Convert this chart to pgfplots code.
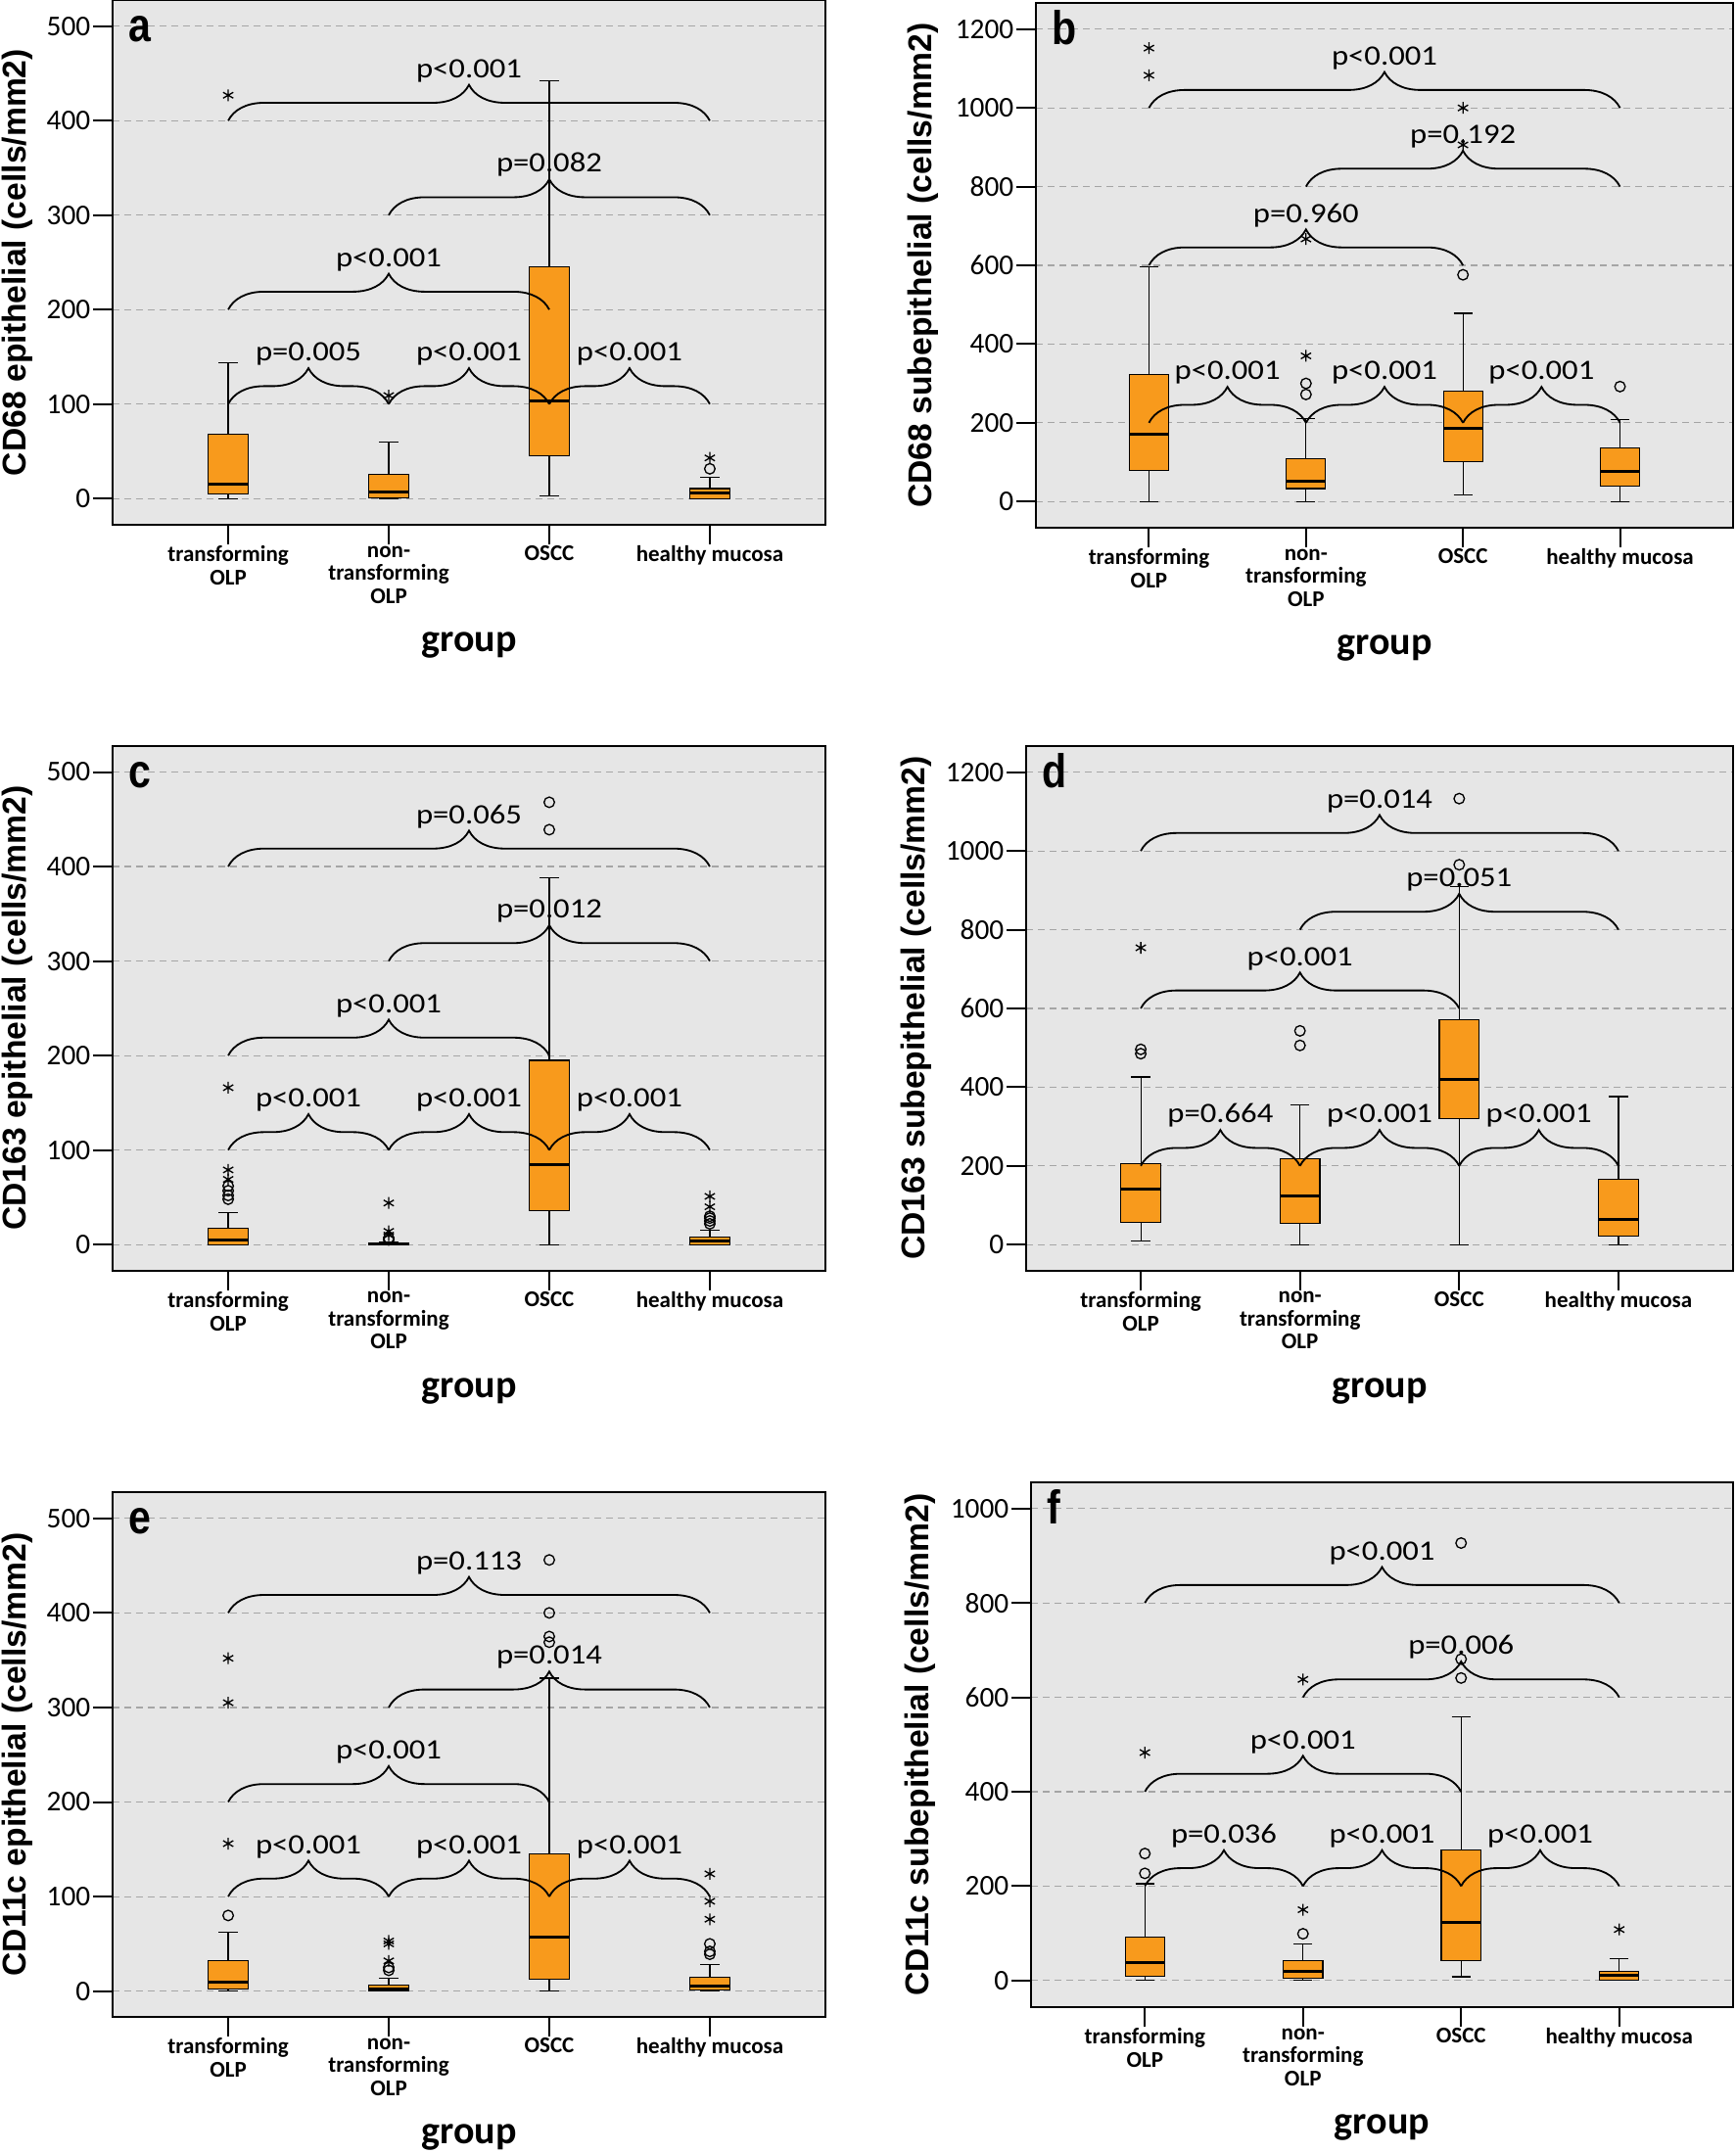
\documentclass[border=0pt]{standalone}
\usepackage{fontspec}
\setmainfont{Carlito}
\newfontfamily\arialf{Liberation Sans}
\usepackage{pgfplots}
\pgfplotsset{compat=1.18}
\usepgfplotslibrary{statistics}
\usetikzlibrary{decorations.pathreplacing}
\definecolor{bgc}{RGB}{230,230,230}
\definecolor{boxc}{RGB}{248,154,28}
\definecolor{gridc}{RGB}{165,165,165}
\newcommand{\tickfont}{\fontsize{8.8}{8.8}\selectfont}
\newcommand{\pfont}{\fontsize{8.6}{8.6}\selectfont}
\newcommand{\catfont}{\fontsize{6.9}{7.1}\selectfont\bfseries}
\newcommand{\grpfont}{\fontsize{12}{12}\selectfont\bfseries}
\newcommand{\ylfont}{\arialf\bfseries\fontsize{10.1}{10.1}\selectfont}
\newcommand{\letfont}{\arialf\bfseries\fontsize{14.5}{14.5}\selectfont}
\tikzset{
  brc/.style={decorate, decoration={brace, amplitude=11pt}, line width=0.55pt, black},
  pv/.style={anchor=south, inner sep=0pt, font=\pfont, yshift=11.6pt, xscale=1.14},
}
\pgfplotsset{
  panel/.style={
    scale only axis, height=160.8pt,
    xmin=0.28, xmax=4.72,
    xtick={1,2,3,4},
    xticklabels={{transforming\\OLP},{non-\\transforming\\OLP},{OSCC},{healthy mucosa}},
    tick pos=left, tick align=outside,
    major tick length=6pt,
    major tick style={black, line width=0.6pt},
    axis line style={black, line width=0.6pt},
    axis background/.style={fill=bgc},
    ymajorgrids,
    grid style={gridc, line width=0.35pt, dash pattern=on 2.1pt off 1.5pt},
    yticklabel style={font=\tickfont, inner sep=0.6pt},
    xticklabel style={font=\catfont, align=center, yshift=3pt},
    /pgf/number format/assume math mode=true,
    /pgf/number format/1000 sep={},
    xlabel={group},
    xlabel style={font=\grpfont, at={(axis description cs:0.5,-0.2295)}, anchor=center},
  },
  boxp/.style={boxplot/draw direction=y, boxplot/box extend=0.25, boxplot/whisker extend=0.12,
    draw=black, line width=0.35pt, fill=boxc,
    boxplot/every median/.style={line width=0.9pt, draw=black}},
}
\newcommand{\bx}[6]{\addplot[boxp, boxplot prepared={draw position=#1, lower whisker=#2, lower quartile=#3, median=#4, upper quartile=#5, upper whisker=#6}] coordinates {};}
\newcommand{\outl}[1]{\addplot[only marks, mark=o, mark size=1.6pt, black, line width=0.4pt] coordinates {#1};}
\newcommand{\ext}[1]{\addplot[only marks, mark=asterisk, mark size=1.8pt, black, line width=0.4pt] coordinates {#1};}
\newcommand{\brc}[5]{\draw[brc] (axis cs:#1,#4) -- (axis cs:#2,#4); \node[pv] at (axis cs:#3,#4) {#5};}
\newcommand{\plet}[1]{\node[anchor=base west, inner sep=0pt, font=\letfont, xshift=4.8pt, yshift=-12.8pt, xscale=0.85] at (rel axis cs:0,1) {#1};}
\begin{document}
\begin{tikzpicture}
\useasboundingbox (0pt,0pt) rectangle (531.9pt,-659.7pt);
% ---------------- a
\begin{axis}[panel, at={(34.5pt,-160.8pt)}, anchor=south west, width=218.4pt,
  ymin=-27.8, ymax=527.8, ytick={0,100,...,500},
  ylabel={CD68 epithelial (cells/mm2)},
  ylabel style={font=\ylfont, at={(axis description cs:-0.133,0.5)}, anchor=center}]
\bx{1}{0}{5}{15.7}{68}{143.5}
\bx{2}{0}{1}{7.4}{25.5}{60}
\bx{3}{3}{45}{103}{245}{442}
\bx{4}{0}{0}{5.5}{10.6}{22.7}
\outl{(4,31.5)}
\ext{(1,427) (2,109) (4,43)}
\brc{1}{4}{2.5}{400}{p<0.001}
\brc{2}{4}{3}{300}{p=0.082}
\brc{1}{3}{2}{200}{p<0.001}
\brc{1}{2}{1.5}{100}{p=0.005}
\brc{2}{3}{2.5}{100}{p<0.001}
\brc{3}{4}{3.5}{100}{p<0.001}
\plet{a}
\end{axis}
% ---------------- b
\begin{axis}[panel, at={(317.4pt,-161.7pt)}, anchor=south west, width=213.6pt,
  ymin=-66.7, ymax=1266.7, ytick={0,200,...,1200},
  ylabel={CD68 subepithelial (cells/mm2)},
  ylabel style={font=\ylfont, at={(axis description cs:-0.1615,0.5)}, anchor=center}]
\bx{1}{0}{78}{172}{322}{597}
\bx{2}{0}{33}{52}{108}{211}
\bx{3}{17}{102}{186}{281}{478}
\bx{4}{0}{40}{76}{137}{209}
\outl{(2,300) (2,272) (3,576) (4,292)}
\ext{(1,1152) (1,1083) (2,370) (2,667) (3,1000) (3,906)}
\brc{1}{4}{2.5}{1000}{p<0.001}
\brc{2}{4}{3}{800}{p=0.192}
\brc{1}{3}{2}{600}{p=0.960}
\brc{1}{2}{1.5}{200}{p<0.001}
\brc{2}{3}{2.5}{200}{p<0.001}
\brc{3}{4}{3.5}{200}{p<0.001}
\plet{b}
\end{axis}
% ---------------- c
\begin{axis}[panel, at={(34.5pt,-389.25pt)}, anchor=south west, width=218.4pt,
  ymin=-27.3, ymax=528, ytick={0,100,...,500},
  ylabel={CD163 epithelial (cells/mm2)},
  ylabel style={font=\ylfont, at={(axis description cs:-0.133,0.5)}, anchor=center}]
\bx{1}{0}{0}{4.6}{17}{34}
\bx{2}{0}{0}{0.5}{2}{3}
\bx{3}{0}{35.6}{85}{195}{388}
\bx{4}{0}{0}{3.7}{8}{15}
\outl{(1,62) (1,57) (1,52) (1,48) (2,5) (2,7) (3,468) (3,439) (4,22) (4,25) (4,28) (4,30)}
\ext{(1,79) (1,69) (1,166) (2,10) (2,14) (2,44) (4,40) (4,51)}
\brc{1}{4}{2.5}{400}{p=0.065}
\brc{2}{4}{3}{300}{p=0.012}
\brc{1}{3}{2}{200}{p<0.001}
\brc{1}{2}{1.5}{100}{p<0.001}
\brc{2}{3}{2.5}{100}{p<0.001}
\brc{3}{4}{3.5}{100}{p<0.001}
\plet{c}
\end{axis}
% ---------------- d
\begin{axis}[panel, at={(314.4pt,-389.25pt)}, anchor=south west, width=216.6pt,
  ymin=-65.5, ymax=1267.7, ytick={0,200,...,1200},
  ylabel={CD163 subepithelial (cells/mm2)},
  ylabel style={font=\ylfont, at={(axis description cs:-0.155,0.5)}, anchor=center}]
\bx{1}{10}{57}{140}{206}{426}
\bx{2}{0}{54}{123}{219}{354}
\bx{3}{0}{321}{419}{571}{909}
\bx{4}{0}{21}{65}{165}{376}
\outl{(1,496) (1,485) (2,543) (2,506) (3,1133) (3,965)}
\ext{(1,754)}
\brc{1}{4}{2.5}{1000}{p=0.014}
\brc{2}{4}{3}{800}{p=0.051}
\brc{1}{3}{2}{600}{p<0.001}
\brc{1}{2}{1.5}{200}{p=0.664}
\brc{2}{3}{2.5}{200}{p<0.001}
\brc{3}{4}{3.5}{200}{p<0.001}
\plet{d}
\end{axis}
% ---------------- e
\begin{axis}[panel, at={(34.5pt,-618pt)}, anchor=south west, width=218.4pt,
  ymin=-27.3, ymax=527.7, ytick={0,100,...,500},
  ylabel={CD11c epithelial (cells/mm2)},
  ylabel style={font=\ylfont, at={(axis description cs:-0.133,0.5)}, anchor=center}]
\bx{1}{0}{2.3}{10}{32}{62}
\bx{2}{0}{0}{2.3}{6}{14}
\bx{3}{0}{12.5}{57}{145}{331}
\bx{4}{0}{1}{5}{15}{28}
\outl{(1,80) (2,22) (2,25) (3,456) (3,400) (3,375) (3,369) (4,50) (4,42) (4,39)}
\ext{(1,352) (1,305) (1,156) (2,32) (2,50) (2,53) (4,124) (4,95) (4,76)}
\brc{1}{4}{2.5}{400}{p=0.113}
\brc{2}{4}{3}{300}{p=0.014}
\brc{1}{3}{2}{200}{p<0.001}
\brc{1}{2}{1.5}{100}{p<0.001}
\brc{2}{3}{2.5}{100}{p<0.001}
\brc{3}{4}{3.5}{100}{p<0.001}
\plet{e}
\end{axis}
% ---------------- f
\begin{axis}[panel, at={(315.9pt,-615pt)}, anchor=south west, width=215.1pt,
  ymin=-56.5, ymax=1055.6, ytick={0,200,...,1000},
  ylabel={CD11c subepithelial (cells/mm2)},
  ylabel style={font=\ylfont, at={(axis description cs:-0.158,0.5)}, anchor=center}]
\bx{1}{0}{9}{39}{92}{205}
\bx{2}{0}{5.5}{19}{42}{78}
\bx{3}{8}{42}{124}{277}{559}
\bx{4}{0}{0}{11}{20}{46}
\outl{(1,269) (1,227) (2,99) (3,927) (3,681) (3,641)}
\ext{(1,483) (2,150) (2,638) (4,108)}
\brc{1}{4}{2.5}{800}{p<0.001}
\brc{2}{4}{3}{600}{p=0.006}
\brc{1}{3}{2}{400}{p<0.001}
\brc{1}{2}{1.5}{200}{p=0.036}
\brc{2}{3}{2.5}{200}{p<0.001}
\brc{3}{4}{3.5}{200}{p<0.001}
\plet{f}
\end{axis}
\end{tikzpicture}
\end{document}
